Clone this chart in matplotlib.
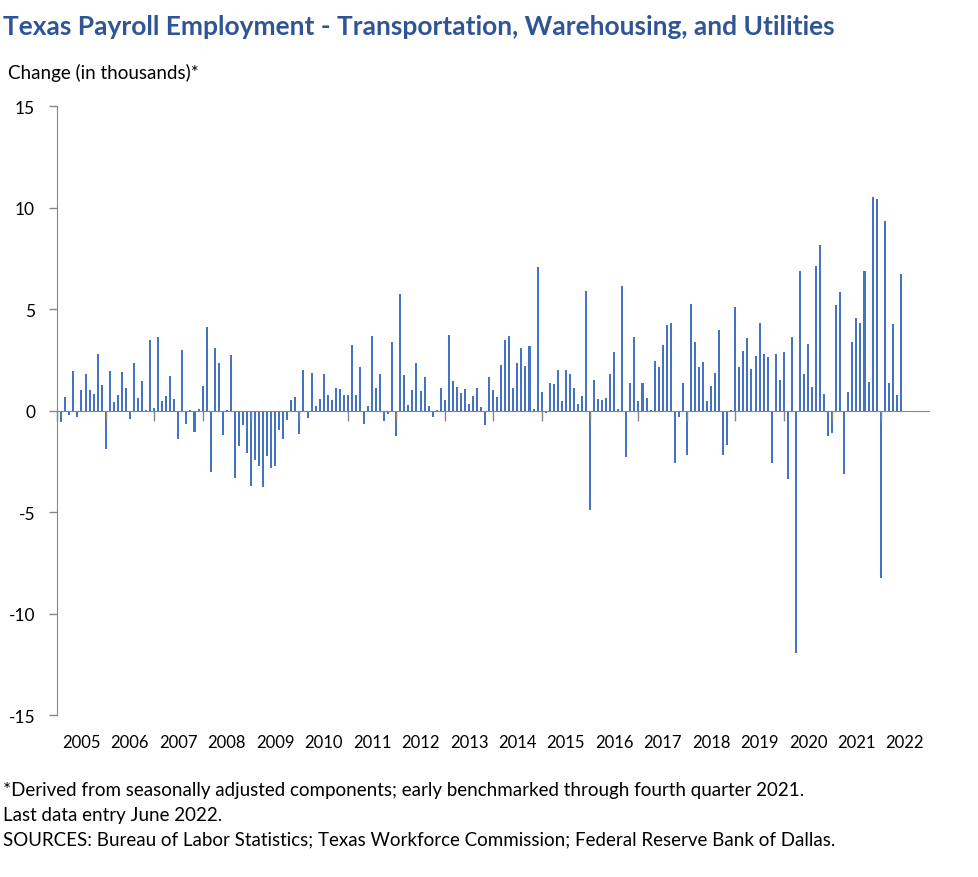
import matplotlib.pyplot as plt
import numpy as np

# monthly change in thousands, Feb 2005 .. Jun 2022 (Jan 2005 sits on the axis)
chg_2005 = [-0.57, 0.66, -0.21, 1.94, -0.33, 1.02, 1.80, 1.00, 0.80, 2.79, 1.25]
chg_2006 = [-1.90, 1.94, 0.41, 0.75, 1.89, 1.10, -0.43, 2.35, 0.61, 1.44, 0.03, 3.46]
chg_2007 = [0.11, 3.61, 0.46, 0.71, 1.69, 0.56, -1.41, 2.99, -0.67, 0.03, -1.07, 0.07]
chg_2008 = [1.20, 4.10, -3.04, 3.07, 2.35, -1.21, 0.05, 2.72, -3.33, -1.76, -0.72, -2.10]
chg_2009 = [-3.73, -2.45, -2.74, -3.78, -2.25, -2.84, -2.74, -0.97, -1.41, -0.48, 0.53, 0.67]
chg_2010 = [-1.17, 2.00, -0.38, 1.86, 0.20, 0.57, 1.81, 0.75, 0.53, 1.12, 1.07, 0.77]
chg_2011 = [0.77, 3.22, 0.76, 2.13, -0.67, 0.21, 3.66, 1.10, 1.79, -0.53, -0.18, 3.38]
chg_2012 = [-1.26, 5.73, 1.74, 0.26, 1.00, 2.35, 0.95, 1.64, 0.21, -0.33, 0.03, 1.10]
chg_2013 = [0.51, 3.71, 1.44, 1.15, 0.85, 1.05, 0.31, 0.71, 1.10, 0.16, -0.72, 1.64]
chg_2014 = [1.00, 0.66, 2.23, 3.46, 3.66, 1.12, 2.33, 3.07, 2.18, 3.17, 0.07, 7.06]
chg_2015 = [0.90, -0.10, 1.35, 1.30, 1.99, 0.46, 1.99, 1.79, 1.10, 0.31, 0.71, 5.88]
chg_2016 = [-4.91, 1.49, 0.56, 0.51, 0.61, 1.79, 2.87, 0.07, 6.12, -2.30, 1.35, 3.61]
chg_2017 = [0.46, 1.35, 0.61, 0.03, 2.43, 2.13, 3.22, 4.20, 4.30, -2.58, -0.31, 1.35]
chg_2018 = [-2.18, 5.24, 3.37, 2.13, 2.38, 0.46, 1.20, 1.84, 3.96, -2.18, -1.69, 0.03]
chg_2019 = [5.09, 2.13, 2.92, 3.56, 2.04, 2.68, 4.30, 2.78, 2.63, -2.58, 2.78, 1.49]
chg_2020 = [2.87, -3.37, 3.63, -11.95, 6.86, 1.79, 3.28, 1.15, 7.13, 8.14, 0.80, -1.26]
chg_2021 = [-1.12, 5.19, 5.83, -3.14, 0.90, 3.37, 4.55, 4.30, 6.86, 1.40, 10.51, 10.41]
chg_2022 = [-8.26, 9.33, 1.35, 4.25, 0.76, 6.72]

years = list(range(2005, 2023))
y_ticks = [-15, -10, -5, 0, 5, 10, 15]

title = "Texas Payroll Employment - Transportation, Warehousing, and Utilities"
y_title = "Change (in thousands)*"
notes = [
    "*Derived from seasonally adjusted components; early benchmarked through fourth quarter 2021.",
    "Last data entry June 2022.",
    "SOURCES: Bureau of Labor Statistics; Texas Workforce Commission; Federal Reserve Bank of Dallas.",
]

values = (chg_2005 + chg_2006 + chg_2007 + chg_2008 + chg_2009 + chg_2010 + chg_2011
          + chg_2012 + chg_2013 + chg_2014 + chg_2015 + chg_2016 + chg_2017 + chg_2018
          + chg_2019 + chg_2020 + chg_2021 + chg_2022)
months = np.arange(1, len(values) + 1)

plt.rcParams['font.family'] = ['Lato', 'DejaVu Sans']
grey = '#868686'

fig = plt.figure(figsize=(9.79, 8.78), dpi=100)
ax = fig.add_axes([0.0585, 0.1845, 0.8905, 0.6936])

ax.bar(months, values, width=0.5, color='#4472C4')

ax.set_xlim(0, 12 * len(years))
ax.set_ylim(-15, 15)
ax.set_yticks(y_ticks)
ax.set_yticklabels([str(t) for t in y_ticks], fontsize=12.5)

ax.spines['top'].set_visible(False)
ax.spines['right'].set_visible(False)
ax.spines['left'].set_color(grey)
ax.spines['bottom'].set_color(grey)
ax.spines['bottom'].set_position(('data', 0))

# year boundary ticks on the zero line (none at the far right end)
ax.set_xticks(np.arange(0, 12 * len(years), 12))
ax.set_xticklabels([])
ax.tick_params(axis='x', direction='out', length=7, color=grey, width=1)
ax.tick_params(axis='y', direction='out', length=6, color=grey, width=1, pad=10)

# year labels under the plot, centred in each year
for k, yr in enumerate(years):
    ax.text(12 * k + 6, -0.044, str(yr), transform=ax.get_xaxis_transform(),
            ha='center', va='center', fontsize=12)

fig.text(0.003, 0.969, title, fontsize=19, fontweight='bold', color='#2F5597',
         ha='left', va='center')
fig.text(0.008, 0.917, y_title, fontsize=13.5, ha='left', va='center')
for k, line in enumerate(notes):
    fig.text(0.003, 0.1002 - 0.0285 * k, line, fontsize=13.5, ha='left', va='center')

fig.savefig('out.png', dpi=100)
